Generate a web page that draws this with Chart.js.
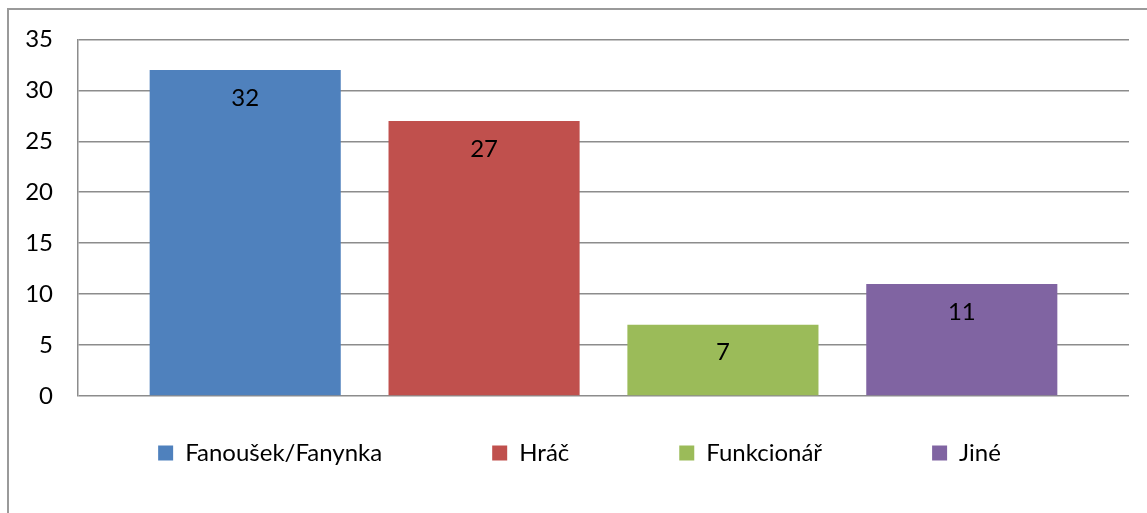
<!DOCTYPE html>
<html>
<head>
<meta charset="utf-8">
<script src="https://cdn.jsdelivr.net/npm/chart.js@4/dist/chart.umd.min.js"></script>
<style>
  html, body { margin: 0; padding: 0; background: #fff; overflow: hidden; }
  #frame { position: absolute; left: 7px; top: 8px; width: 1400px; height: 800px;
           border: 2px solid #9a9a9a; box-sizing: border-box; }
  #wrap { position: absolute; left: 0; top: 0; width: 1147px; height: 513px; }
</style>
</head>
<body>
<div id="frame"></div>
<div id="wrap"><canvas id="chart"></canvas></div>
<script>
// data
const categories = ['Fanoušek/Fanynka', 'Hráč', 'Funkcionář', 'Jiné'];
const counts = [32, 27, 7, 11];
const colors = ['#4F81BD', '#C0504D', '#9BBB59', '#8064A2'];
const yTicks = [0, 5, 10, 15, 20, 25, 30, 35];

const font = { family: 'Lato', size: 24 };

// value labels inside the bars, near the top
const barLabels = {
  id: 'barLabels',
  afterDatasetsDraw(chart) {
    const ctx = chart.ctx;
    ctx.save();
    ctx.font = font.size + 'px ' + font.family;
    ctx.fillStyle = '#000';
    ctx.textAlign = 'center';
    ctx.textBaseline = 'middle';
    chart.data.datasets.forEach((ds, i) => {
      chart.getDatasetMeta(i).data.forEach((bar, j) => {
        ctx.fillText(ds.data[j].y, bar.x, bar.y + 28);
      });
    });
    ctx.restore();
  }
};

// legend row sits closer to the plot than its (wide) padding would put it,
// and is centred a bit right of the canvas middle
const legendRow = {
  id: 'legendRow',
  afterLayout(chart) {
    const lg = chart.legend;
    lg.top = chart.chartArea.bottom + 45 - lg.options.labels.padding;
    lg.left += 15;
    lg.right += 15;
  }
};

new Chart(document.getElementById('chart'), {
  type: 'bar',
  data: {
    datasets: categories.map((c, i) => ({
      label: c,
      data: [{ x: i, y: counts[i] }],
      backgroundColor: colors[i],
      borderWidth: 0,
      grouped: false,
      barPercentage: 0.8,
      categoryPercentage: 1
    }))
  },
  options: {
    responsive: true,
    maintainAspectRatio: false,
    animation: false,
    layout: { padding: { left: 0, right: 18, top: 38, bottom: 0 } },
    scales: {
      x: {
        type: 'linear',
        min: -0.7,
        max: 3.7,
        offset: false,
        afterBuildTicks: (axis) => { axis.ticks = categories.map((c, i) => ({ value: i })); },
        display: false
      },
      y: {
        min: 0,
        max: 35,
        afterBuildTicks: (axis) => { axis.ticks = yTicks.map(v => ({ value: v })); },
        afterFit: (axis) => { axis.width = 78; },
        ticks: { color: '#000', font: font, padding: 25 },
        grid: { color: '#8c8c8c', lineWidth: 1.5, drawTicks: false },
        border: { color: '#8c8c8c', width: 1.5 }
      }
    },
    plugins: {
      tooltip: { enabled: false },
      legend: {
        position: 'bottom',
        maxHeight: 117,
        labels: {
          color: '#000',
          font: font,
          boxWidth: 15,
          boxHeight: 15,
          padding: 110
        }
      }
    }
  },
  plugins: [barLabels, legendRow]
});
</script>
</body>
</html>
